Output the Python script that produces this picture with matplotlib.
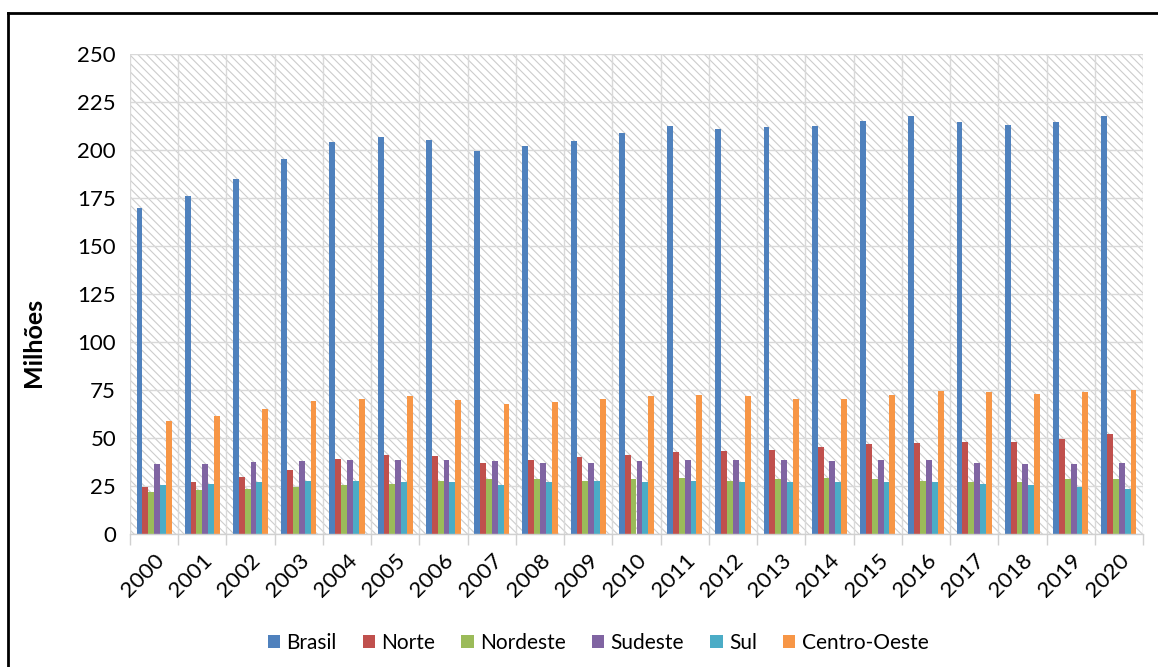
import matplotlib
matplotlib.use("Agg")
import matplotlib.pyplot as plt
import numpy as np
from matplotlib.patches import Rectangle
from matplotlib.lines import Line2D

years = [str(y) for y in range(2000, 2021)]
brasil = [169.6, 176.2, 185.1, 195.3, 204.2, 206.9, 205.4, 199.5, 202.1, 204.9, 209.0,
          212.3, 210.9, 211.8, 212.3, 215.1, 217.9, 214.4, 213.2, 214.4, 217.9]
norte = [24.3, 27.0, 29.7, 33.2, 39.2, 41.3, 40.5, 37.2, 38.5, 39.9, 41.3,
         42.7, 43.4, 43.9, 45.5, 46.7, 47.4, 48.1, 48.1, 49.3, 52.1]
nordeste = [22.0, 23.0, 23.6, 24.5, 25.5, 26.2, 27.6, 28.5, 28.5, 27.6, 28.5,
            29.0, 27.6, 28.5, 29.2, 28.5, 27.6, 27.0, 27.0, 28.5, 28.5]
sudeste = [36.5, 36.5, 37.3, 38.0, 38.5, 38.5, 38.5, 38.0, 37.2, 37.2, 38.0,
           38.5, 38.5, 38.5, 38.0, 38.5, 38.5, 37.2, 36.5, 36.5, 37.2]
sul = [25.5, 26.2, 27.0, 27.6, 27.6, 27.0, 27.0, 25.5, 27.0, 27.6, 27.0,
       27.6, 27.0, 27.0, 27.0, 27.0, 27.0, 26.2, 25.5, 24.7, 23.6]
centro_oeste = [59.0, 61.6, 65.1, 69.1, 70.5, 71.9, 69.8, 67.7, 68.6, 70.5, 71.9,
                72.6, 71.9, 70.5, 70.5, 72.6, 74.5, 73.8, 73.1, 73.8, 75.2]

series_names = ["Brasil", "Norte", "Nordeste", "Sudeste", "Sul", "Centro-Oeste"]
series_values = [brasil, norte, nordeste, sudeste, sul, centro_oeste]
colors = ["#4F81BD", "#C0504D", "#9BBB59", "#8064A2", "#4BACC6", "#F79646"]
y_ticks = [0, 25, 50, 75, 100, 125, 150, 175, 200, 225, 250]

plt.rcParams["font.family"] = ["Lato", "DejaVu Sans"]
plt.rcParams["hatch.linewidth"] = 0.8

fig = plt.figure(figsize=(11.58, 6.67), dpi=100)
ax = fig.add_axes([130 / 1158, 1 - 534 / 667, (1143 - 130) / 1158, 480 / 667])

n_cat = len(years)
x = np.arange(n_cat)
group_w = 0.73
bar_w = group_w / len(series_names)

# hatched plot-area background
bg = Rectangle((0, 0), 1, 1, transform=ax.transAxes, facecolor="white",
               edgecolor="#cccccc", linewidth=0, hatch="\\\\\\\\", zorder=0)
ax.add_patch(bg)

for i, (name, vals, col) in enumerate(zip(series_names, series_values, colors)):
    offs = -group_w / 2 + bar_w * (i + 0.5)
    ax.bar(x + offs, vals, width=bar_w, color=col, label=name, zorder=3, linewidth=0)

ax.set_xlim(-0.5, n_cat - 0.5)
ax.set_ylim(0, 250)
ax.set_yticks(y_ticks)
ax.set_yticklabels([str(v) for v in y_ticks], fontsize=16)

ax.set_xticks(x)
ax.set_xticklabels(years, fontsize=16, rotation=45, ha="right", rotation_mode="anchor")
ax.tick_params(axis="x", which="major", length=0, pad=12)
ax.set_xticks(np.arange(-0.5, n_cat, 1.0), minor=True)
ax.tick_params(axis="x", which="minor", length=8, color="#d0d0d0", width=1)
ax.tick_params(axis="y", length=0, pad=10)

ax.grid(axis="y", which="major", color="#d9d9d9", linewidth=1, zorder=1)
ax.grid(axis="x", which="minor", color="#d9d9d9", linewidth=1, zorder=1)
ax.grid(axis="x", which="major", visible=False)
ax.set_axisbelow(True)

for s in ["top", "right", "left"]:
    ax.spines[s].set_visible(False)
ax.spines["bottom"].set_color("#d0d0d0")
ax.spines["bottom"].set_linewidth(1)
ax.spines["bottom"].set_zorder(4)

ax.set_ylabel("Milhões", fontsize=18, fontweight="bold")
ax.yaxis.set_label_coords(-0.084, 0.40)

leg = fig.legend(loc="center", bbox_to_anchor=(598 / 1158, 1 - 643 / 667), ncol=6,
                 frameon=False, fontsize=15, handlelength=0.6, handleheight=0.6,
                 handletextpad=0.3, columnspacing=1.25)

# outer frame (top and left edges)
fig.add_artist(Line2D([8 / 1158, 1.0], [1 - 12.5 / 667, 1 - 12.5 / 667],
                      transform=fig.transFigure, color="black", linewidth=2))
fig.add_artist(Line2D([8 / 1158, 8 / 1158], [0.0, 1 - 12.5 / 667],
                      transform=fig.transFigure, color="black", linewidth=2))

fig.savefig("out.png", dpi=100, facecolor="white")
